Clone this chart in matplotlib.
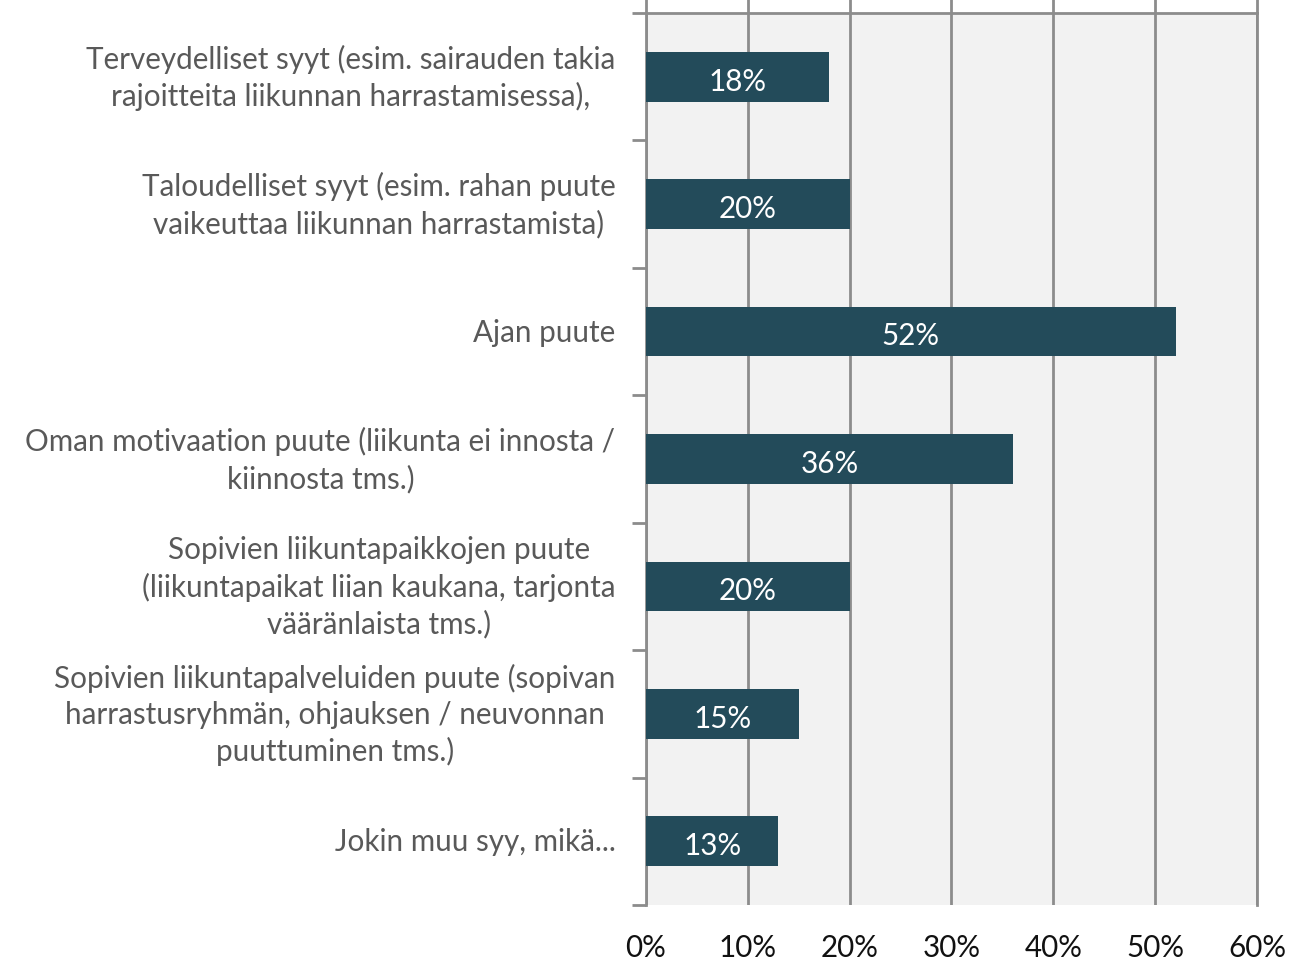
import matplotlib
matplotlib.use("Agg")
import matplotlib.pyplot as plt

categories = [
    "Terveydelliset syyt (esim. sairauden takia\nrajoitteita liikunnan harrastamisessa),",
    "Taloudelliset syyt (esim. rahan puute\nvaikeuttaa liikunnan harrastamista)",
    "Ajan puute",
    "Oman motivaation puute (liikunta ei innosta /\nkiinnosta tms.)",
    "Sopivien liikuntapaikkojen puute\n(liikuntapaikat liian kaukana, tarjonta\nvääränlaista tms.)",
    "Sopivien liikuntapalveluiden puute (sopivan\nharrastusryhmän, ohjauksen / neuvonnan\npuuttuminen tms.)",
    "Jokin muu syy, mikä...",
]
values = [18, 20, 52, 36, 20, 15, 13]
xticks = [0, 10, 20, 30, 40, 50, 60]

plt.rcParams["font.family"] = ["Lato", "DejaVu Sans"]

bar_color = "#234b5a"
grid_color = "#8c8c8c"
fs = 21.3

fig = plt.figure(figsize=(13.01, 9.62), dpi=100)
ax = fig.add_axes([0.4965, 0.0582, 0.4697, 0.9272])
ax.set_facecolor("#f2f2f2")

n = len(categories)
ypos = list(range(n))
ax.barh(ypos, values, height=0.39, color=bar_color, zorder=3)
for y, v in zip(ypos, values):
    ax.text(v / 2, y + 0.03, f"{v}%", ha="center", va="center", color="white",
            fontsize=fs, zorder=4)

ax.set_xlim(0, 60)
ax.set_ylim(n - 0.5, -0.5)

ax.set_xticks(xticks)
ax.set_xticklabels([f"{t}%" for t in xticks])
ax.tick_params(axis="x", top=True, bottom=False, labeltop=False, labelbottom=True,
               direction="out", length=10, width=2, color=grid_color,
               labelsize=fs, labelcolor="#111111", pad=10)
ax.grid(axis="x", color=grid_color, linewidth=2, zorder=1)
ax.set_axisbelow(True)

ax.set_yticks(ypos)
ax.set_yticklabels(categories)
ax.set_yticks([i - 0.5 for i in range(n + 1)], minor=True)
ax.tick_params(axis="y", which="major", length=0, pad=22, labelsize=fs,
               labelcolor="#595959")
ax.tick_params(axis="y", which="minor", length=10, width=2, color=grid_color,
               direction="out")
for lab in ax.get_yticklabels():
    lab.set_multialignment("center")
    lab.set_linespacing(1.35)
    lab.set_verticalalignment("center")

for side in ["top", "left", "right"]:
    ax.spines[side].set_color(grid_color)
    ax.spines[side].set_linewidth(2)
ax.spines["bottom"].set_visible(False)

fig.savefig("out.png", dpi=100)
